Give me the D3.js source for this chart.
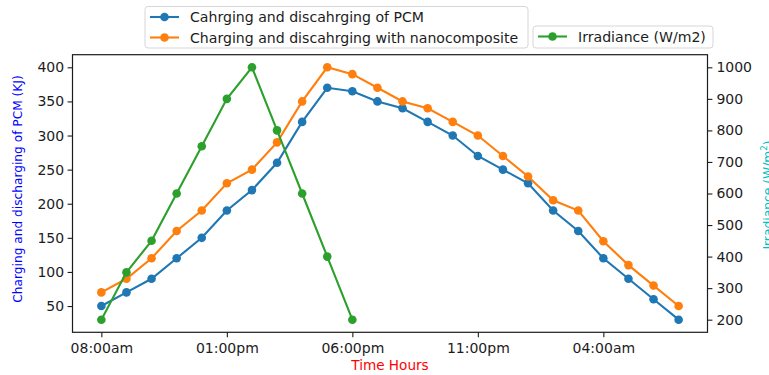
<!DOCTYPE html>
<html><head><meta charset="utf-8">
<script src="https://cdn.jsdelivr.net/npm/d3@7"></script>
<style>
body{margin:0;background:#fff;}
text{font-family:"DejaVu Sans",sans-serif;}
</style></head>
<body>
<svg id="chart" width="769" height="375"></svg>
<script>
const hourIndex = d3.range(24);
const tickHours = [0, 5, 10, 15, 20];
const tickLabels = ["08:00am", "01:00pm", "06:00pm", "11:00pm", "04:00am"];
const pcm = [50, 70, 90, 120, 150, 190, 220, 260, 320, 370, 365, 350, 340, 320, 300, 270, 250, 230, 190, 160, 120, 90, 60, 30];
const nano = [70, 90, 120, 160, 190, 230, 250, 290, 350, 400, 390, 370, 350, 340, 320, 300, 270, 240, 205, 190, 145, 110, 80, 50];
const irradiance = [200, 350, 450, 600, 750, 900, 1000, 800, 600, 400, 200];
const leftTicks = [50, 100, 150, 200, 250, 300, 350, 400];
const rightTicks = [200, 300, 400, 500, 600, 700, 800, 900, 1000];
const seriesNames = ["Cahrging and discahrging of PCM", "Charging and discahrging with nanocomposite", "Irradiance (W/m2)"];
const colors = ["#1f77b4", "#ff7f0e", "#2ca02c"];

const svg = d3.select("#chart");
const L = 72.5, R = 707.5, T = 54.7, B = 332.3;
const x = d3.scaleLinear().domain([-1.15, 24.15]).range([L, R]);
const yL = d3.scaleLinear().domain([11.5, 418.5]).range([B, T]);
const yR = d3.scaleLinear().domain([160, 1040]).range([B, T]);

const tickFont = "14px";
const ink = "#1c1c1c";
// axes
const xAxis = svg.append("g").attr("transform", `translate(0,${B})`)
  .call(d3.axisBottom(x).tickValues(tickHours).tickFormat((d, i) => tickLabels[i]).tickSizeOuter(0).tickSize(4.9).tickPadding(5.5));
const yAxisL = svg.append("g").attr("transform", `translate(${L},0)`)
  .call(d3.axisLeft(yL).tickValues(leftTicks).tickFormat(d3.format("d")).tickSizeOuter(0).tickSize(4.9).tickPadding(3.5));
const yAxisR = svg.append("g").attr("transform", `translate(${R},0)`)
  .call(d3.axisRight(yR).tickValues(rightTicks).tickFormat(d3.format("d")).tickSizeOuter(0).tickSize(4.9).tickPadding(4));
[xAxis, yAxisL, yAxisR].forEach(g => {
  g.select(".domain").remove();
  g.selectAll("text").attr("font-size", tickFont).attr("fill", ink).attr("font-family", "DejaVu Sans");
  g.selectAll("line").attr("stroke", ink).attr("stroke-width", 1.1);
});
svg.append("rect").attr("x", L).attr("y", T).attr("width", R - L).attr("height", B - T)
  .attr("fill", "none").attr("stroke", ink).attr("stroke-width", 1.2);

// series
function drawSeries(data, yScale, color) {
  const line = d3.line().x((d, i) => x(i)).y(d => yScale(d));
  svg.append("path").datum(data).attr("d", line).attr("fill", "none").attr("stroke", color).attr("stroke-width", 2.1);
  svg.append("g").selectAll("circle").data(data).join("circle")
    .attr("cx", (d, i) => x(i)).attr("cy", d => yScale(d)).attr("r", 4.3).attr("fill", color);
}
drawSeries(pcm, yL, colors[0]);
drawSeries(nano, yL, colors[1]);
drawSeries(irradiance, yR, colors[2]);

// axis labels
svg.append("text").attr("x", (L + R) / 2).attr("y", 370).attr("text-anchor", "middle")
  .attr("font-size", "13.6px").attr("fill", "#ff0000").text("Time Hours");
svg.append("text").attr("transform", `translate(22,189) rotate(-90)`).attr("text-anchor", "middle")
  .attr("font-size", "12.2px").attr("fill", "#0000ff").text("Charging and discharging of PCM (KJ)");
const rl = svg.append("text").attr("transform", `translate(772,195) rotate(-90)`).attr("text-anchor", "middle")
  .attr("font-size", "12.3px").attr("fill", "#00bfbf");
rl.append("tspan").text("Irradiance (W/m");
rl.append("tspan").attr("font-size", "8.6px").attr("dy", -5).text("2");
rl.append("tspan").attr("dy", 5).text(")");

// legends
const legFont = "14.1px";
function legendBox(x0, y0, w, h, items) {
  const g = svg.append("g");
  g.append("rect").attr("x", x0).attr("y", y0).attr("width", w).attr("height", h).attr("rx", 3)
    .attr("fill", "#fff").attr("stroke", "#d6d6d6").attr("stroke-width", 1);
  items.forEach((it, i) => {
    const cy = y0 + 10.5 + i * 20.5;
    g.append("line").attr("x1", x0 + 5).attr("x2", x0 + 34).attr("y1", cy).attr("y2", cy)
      .attr("stroke", it.color).attr("stroke-width", 2.1);
    g.append("circle").attr("cx", x0 + 19.5).attr("cy", cy).attr("r", 4.3).attr("fill", it.color);
    g.append("text").attr("x", x0 + 45).attr("y", cy).attr("dy", "0.36em")
      .attr("font-size", legFont).attr("fill", ink).text(it.name);
  });
}
legendBox(145, 6.5, 383, 41.5, [{name: seriesNames[0], color: colors[0]}, {name: seriesNames[1], color: colors[1]}]);
legendBox(533, 26, 180, 22, [{name: seriesNames[2], color: colors[2]}]);
</script>
</body></html>
